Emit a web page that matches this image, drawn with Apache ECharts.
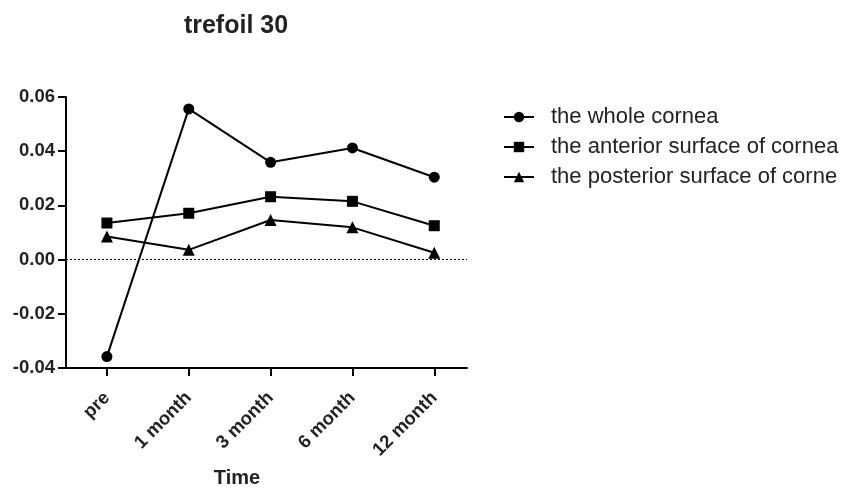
<!DOCTYPE html>
<html>
<head>
<meta charset="utf-8">
<script src="https://cdn.jsdelivr.net/npm/echarts@6/dist/echarts.min.js"></script>
<style>html,body{margin:0;padding:0;background:#fff;}#c{width:846px;height:488px;}</style>
</head>
<body>
<div id="c"></div>
<script>
var categories = ['pre', '1 month', '3 month', '6 month', '12 month'];
var seriesNames = ['the whole cornea', 'the anterior surface of cornea', 'the posterior surface of corne'];
var wholeCornea = [-0.0358, 0.0556, 0.0359, 0.0412, 0.0304];
var anteriorSurface = [0.0135, 0.0171, 0.0232, 0.0215, 0.0125];
var posteriorSurface = [0.0085, 0.0036, 0.0146, 0.0119, 0.0025];
var yTicks = [-0.04, -0.02, 0.00, 0.02, 0.04, 0.06];

function pairs(vals) { return vals.map(function (v, i) { return [i, v]; }); }
var catIdx = categories.map(function (c, i) { return i; });

var chart = echarts.init(document.getElementById('c'), null, {renderer: 'canvas'});
var fam = 'Liberation Sans, Arial, sans-serif';
function mkSeries(name, vals, symbol, size, withZero) {
  var s = {
    name: name, type: 'line', data: pairs(vals), symbol: symbol, symbolSize: size,
    lineStyle: {color: '#000', width: 2}, itemStyle: {color: '#000'},
    emphasis: {disabled: true}, animation: false, z: 3
  };
  if (withZero) {
    s.markLine = {
      silent: true, symbol: 'none', label: {show: false}, animation: false,
      lineStyle: {color: '#000', type: [2, 2], width: 1},
      data: [{yAxis: 0}]
    };
  }
  return s;
}
chart.setOption({
  backgroundColor: '#fff',
  animation: false,
  grid: {left: 66, right: 379, top: 97, bottom: 120, containLabel: false},
  legend: {
    orient: 'vertical', left: 503, top: 106, padding: 0, itemWidth: 30, itemHeight: 13, itemGap: 8,
    textStyle: {fontFamily: fam, fontSize: 22, color: '#222', lineHeight: 22, padding: [0, 0, 0, 12]},
    data: seriesNames
  },
  xAxis: {
    type: 'value', min: -0.5, max: 4.4,
    axisLine: {show: true, onZero: false, lineStyle: {color: '#000', width: 2}},
    axisTick: {show: true, length: 8, lineStyle: {color: '#000', width: 2}, customValues: catIdx},
    axisLabel: {
      customValues: catIdx, rotate: 45, margin: 27,
      fontFamily: fam, fontWeight: 'bold', fontSize: 18.5, color: '#222',
      formatter: function (v) { return categories[Math.round(v)]; }
    },
    splitLine: {show: false}
  },
  yAxis: {
    type: 'value', min: yTicks[0], max: yTicks[yTicks.length - 1], interval: 0.02,
    axisLine: {show: true, onZero: false, lineStyle: {color: '#000', width: 2}},
    axisTick: {show: true, length: 8, lineStyle: {color: '#000', width: 2}},
    axisLabel: {
      margin: 11, fontFamily: fam, fontWeight: 'bold', fontSize: 18.5, color: '#222',
      formatter: function (v) { var t = v.toFixed(2); return t === '-0.00' ? '0.00' : t; }
    },
    splitLine: {show: false}
  },
  graphic: [
    {type: 'text', x: 236, y: 26, style: {text: 'trefoil 30', fontFamily: fam, fontWeight: 'bold', fontSize: 25, fill: '#222', textAlign: 'center', textVerticalAlign: 'middle'}},
    {type: 'text', x: 237, y: 478, style: {text: 'Time', fontFamily: fam, fontWeight: 'bold', fontSize: 20, fill: '#222', textAlign: 'center', textVerticalAlign: 'middle'}}
  ],
  series: [
    mkSeries(seriesNames[0], wholeCornea, 'circle', 11, true),
    mkSeries(seriesNames[1], anteriorSurface, 'rect', 11, false),
    mkSeries(seriesNames[2], posteriorSurface, 'triangle', 12, false)
  ]
});
</script>
</body>
</html>
